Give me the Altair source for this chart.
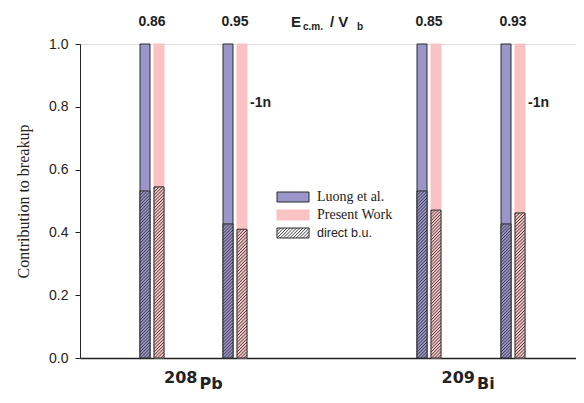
import altair as alt
import pandas as pd

# ---- data ----
nuclei = ["208", "209"]
elements = ["Pb", "Bi"]
energy_labels = ["0.86", "0.95", "0.85", "0.93"]
luong_total = [1.0, 1.0, 1.0, 1.0]
present_total = [1.0, 1.0, 1.0, 1.0]
luong_direct = [0.532, 0.427, 0.532, 0.427]
present_direct = [0.545, 0.41, 0.471, 0.462]

# ---- layout (x axis in pixel-like units) ----
PAIR_START = [60, 143, 337, 421]
BAR_W = 10
PAIR_SHIFT = 14
PX_PER_UNIT = 314.0
PLOT_W = 496
PURPLE = "#9b96c9"
PINK = "#f9c3c3"
DARK = "#2a2a2a"


def py(page_y):
    return (358 - page_y) / PX_PER_UNIT


bars, hatch_rects = [], []
for i in range(4):
    for s, (tot, d, col) in enumerate([(luong_total[i], luong_direct[i], PURPLE),
                                       (present_total[i], present_direct[i], PINK)]):
        x0 = PAIR_START[i] + s * PAIR_SHIFT
        bars.append(dict(x0=x0, x1=x0 + BAR_W, y0=0, y1=tot, fill=col,
                         stroke=DARK if s == 0 else col))
        hatch_rects.append(dict(x0=x0, x1=x0 + BAR_W, y0=0, y1=d, fill=col))

# legend swatches (in plot coordinates)
legend_items = ["Luong et al.", "Present Work", "direct b.u."]
legend_fonts = ["Liberation Serif", "Liberation Serif", "Liberation Sans"]
legend_sizes = [14, 14, 12.5]
leg_rows = [py(197), py(215), py(233)]
leg_x0, leg_x1 = 197, 229
leg_half = 5 / PX_PER_UNIT
legend_rects = pd.DataFrame([
    dict(x0=leg_x0, x1=leg_x1, y0=leg_rows[0] - leg_half, y1=leg_rows[0] + leg_half, fill=PURPLE, stroke=DARK),
    dict(x0=leg_x0, x1=leg_x1, y0=leg_rows[1] - leg_half, y1=leg_rows[1] + leg_half, fill=PINK, stroke=PINK),
    dict(x0=leg_x0, x1=leg_x1, y0=leg_rows[2] - leg_half, y1=leg_rows[2] + leg_half, fill="white", stroke=DARK),
])
hatch_rects.append(dict(x0=leg_x0, x1=leg_x1, y0=leg_rows[2] - leg_half, y1=leg_rows[2] + leg_half, fill="white"))

# hatch segments (style decoration, slope 1 in pixels)
SPACING = 3.2
segs = []
for r in hatch_rects:
    w = r["x1"] - r["x0"]
    hpx = (r["y1"] - r["y0"]) * PX_PER_UNIT
    c = -w
    while c < hpx:
        xa = max(0, -c)
        xb = min(w, hpx - c)
        if xb > xa:
            segs.append(dict(x=r["x0"] + xa, x2=r["x0"] + xb,
                             y=r["y0"] + (xa + c) / PX_PER_UNIT,
                             y2=r["y0"] + (xb + c) / PX_PER_UNIT))
        c += SPACING
segs = pd.DataFrame(segs)
bars = pd.DataFrame(bars)
hatch_df = pd.DataFrame(hatch_rects[:-1])

xs = alt.Scale(domain=[0, PLOT_W], nice=False, zero=False)
ys = alt.Scale(domain=[0, 1.0], nice=False)

X = alt.X("x0:Q", scale=xs, axis=alt.Axis(labels=False, ticks=False, grid=False, title=None,
                                           domainColor="#222", domainWidth=1.3))
Y = alt.Y("y0:Q", scale=ys, axis=alt.Axis(values=[0, 0.2, 0.4, 0.6, 0.8, 1.0], format=".1f",
                                           grid=False, title="Contribution to breakup",
                                           titleFont="Liberation Serif", titleFontSize=16,
                                           titleFontWeight="normal", titleColor="#222",
                                           titlePadding=17, labelFont="Liberation Sans",
                                           labelFontSize=14, labelColor="#222",
                                           domainColor="#222", tickColor="#222", tickSize=5,
                                           labelPadding=7))

bar_layer = alt.Chart(bars).mark_rect(strokeWidth=1).encode(
    x=X, x2="x1:Q", y=Y, y2="y1:Q",
    fill=alt.Fill("fill:N", scale=None), stroke=alt.Stroke("stroke:N", scale=None))

hatch_bg = alt.Chart(hatch_df).mark_rect(stroke=DARK, strokeWidth=1).encode(
    x=alt.X("x0:Q", scale=xs), x2="x1:Q", y=alt.Y("y0:Q", scale=ys), y2="y1:Q",
    fill=alt.Fill("fill:N", scale=None))

leg_layer = alt.Chart(legend_rects).mark_rect(strokeWidth=1).encode(
    x=alt.X("x0:Q", scale=xs), x2="x1:Q", y=alt.Y("y0:Q", scale=ys), y2="y1:Q",
    fill=alt.Fill("fill:N", scale=None), stroke=alt.Stroke("stroke:N", scale=None))

hatch_lines = alt.Chart(segs).mark_rule(color=DARK, strokeWidth=0.9).encode(
    x=alt.X("x:Q", scale=xs), x2="x2:Q", y=alt.Y("y:Q", scale=ys), y2="y2:Q")

leg_text = pd.DataFrame(dict(x=[leg_x1 + 8] * 3, y=leg_rows, t=legend_items))
leg_text_layers = [
    alt.Chart(leg_text.iloc[[k]]).mark_text(align="left", baseline="middle", fontSize=legend_sizes[k],
                                            font=legend_fonts[k], color="#222").encode(
        x=alt.X("x:Q", scale=xs), y=alt.Y("y:Q", scale=ys), text="t:N")
    for k in range(3)
]

# energy labels
en_df = pd.DataFrame(dict(x=[p + (BAR_W + PAIR_SHIFT) / 2 for p in PAIR_START],
                          y=[py(22)] * 4, t=energy_labels))
en_layer = alt.Chart(en_df).mark_text(fontSize=14, fontWeight="bold", font="Liberation Sans",
                                      color="#222", baseline="middle").encode(
    x=alt.X("x:Q", scale=xs), y=alt.Y("y:Q", scale=ys), text="t:N")

# -1n labels
n_df = pd.DataFrame(dict(x=[PAIR_START[1] + 27, PAIR_START[3] + 27], y=[py(103)] * 2, t=["-1n", "-1n"]))
n_layer = alt.Chart(n_df).mark_text(fontSize=14, fontWeight="bold", font="Liberation Sans",
                                    color="#222", align="left", baseline="middle").encode(
    x=alt.X("x:Q", scale=xs), y=alt.Y("y:Q", scale=ys), text="t:N")

# E_cm / V_b header
hdr = pd.DataFrame(dict(x=[211, 223, 250, 277], y=[py(22), py(27), py(22), py(27)],
                        t=["E", "c.m.", "/ V", "b"], s=[15, 10, 15, 10]))
hdr_layers = [
    alt.Chart(hdr.iloc[[k]]).mark_text(align="left", baseline="middle", fontWeight="bold",
                                       font="Liberation Sans", color="#222",
                                       fontSize=int(hdr.s[k])).encode(
        x=alt.X("x:Q", scale=xs), y=alt.Y("y:Q", scale=ys), text="t:N")
    for k in range(4)
]

# nucleus labels
centers = [(PAIR_START[2 * g] + PAIR_START[2 * g + 1] + BAR_W + PAIR_SHIFT) / 2 for g in range(2)]
mass_df = pd.DataFrame(dict(x=[c + 4 for c in centers], y=[py(383)] * 2, t=nuclei))
el_df = pd.DataFrame(dict(x=[c + 6 for c in centers], y=[py(389)] * 2, t=elements))
mass_layer = alt.Chart(mass_df).mark_text(align="right", baseline="alphabetic", fontSize=16,
                                          fontWeight="bold", font="DejaVu Sans", color="#222").encode(
    x=alt.X("x:Q", scale=xs), y=alt.Y("y:Q", scale=ys), text="t:N")
el_layer = alt.Chart(el_df).mark_text(align="left", baseline="alphabetic", fontSize=16,
                                      fontWeight="bold", font="DejaVu Sans", color="#222").encode(
    x=alt.X("x:Q", scale=xs), y=alt.Y("y:Q", scale=ys), text="t:N")

chart = alt.layer(
    bar_layer, hatch_bg, leg_layer, hatch_lines, *leg_text_layers, en_layer, n_layer,
    *hdr_layers, mass_layer, el_layer
).properties(
    width=PLOT_W, height=314,
    autosize=alt.AutoSizeParams(type="none"),
    padding={"left": 72, "top": 36, "right": 0, "bottom": 34},
).configure_view(stroke=None).configure(background="white")

chart.save("out.html", embed_options={"renderer": "svg", "actions": False})
